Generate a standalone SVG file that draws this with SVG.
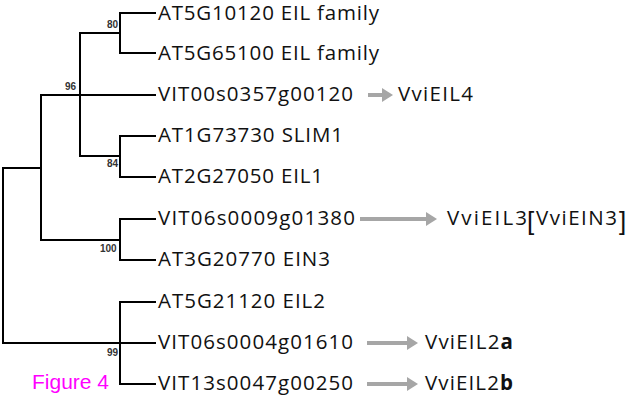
<svg xmlns="http://www.w3.org/2000/svg" width="632" height="400" viewBox="0 0 632 400">
<defs>
<style>
.br{fill:none;stroke:#000;stroke-width:2;stroke-linecap:square}
.lf{font-family:"Open Sans","Liberation Sans",sans-serif;font-size:20.5px;fill:#111}
.bs{font-family:"Liberation Sans",Arial,sans-serif;font-size:10px;font-weight:bold;fill:#333}
.ar{fill:none;stroke:#a6a6a6;stroke-width:4}
.bk{font-family:"Liberation Sans",Arial,sans-serif;font-size:26px;fill:#111}
</style>
<marker id="ah" markerUnits="userSpaceOnUse" markerWidth="12" markerHeight="16" refX="2" refY="7" orient="auto">
<path d="M0,0 L11,7 L0,14 z" fill="#a6a6a6"/>
</marker>
</defs>
<rect width="632" height="400" fill="#fff"/>
<g id="connectors">
<path class="br" d="M3,168 V343 M3,168 H41 M41,95 V240 M41,95 H155 M80,33 V156 M80,33 H120 M120,13 V53 M120,13 H155 M120,53 H155 M80,156 H120 M120,136 V177 M120,136 H155 M120,177 H155 M41,240 H120 M120,219 V260 M120,219 H155 M120,260 H155 M3,343 H155 M120,302 V384 M120,302 H155 M120,384 H155"/>
<path class="ar" d="M368,95 H384" marker-end="url(#ah)"/>
<path class="ar" d="M360,219 H428" marker-end="url(#ah)"/>
<path class="ar" d="M367,343 H409" marker-end="url(#ah)"/>
<path class="ar" d="M367,384 H409" marker-end="url(#ah)"/>
</g>
<g id="bootstrap">
<text class="bs" x="107" y="28">80</text>
<text class="bs" x="65" y="90">96</text>
<text class="bs" x="107" y="167">84</text>
<text class="bs" x="100" y="252">100</text>
<text class="bs" x="107" y="356">99</text>
</g>
<g id="leaf1"><text class="lf" x="158" y="20" textLength="221">AT5G10120 EIL family</text></g>
<g id="leaf2"><text class="lf" x="158" y="60" textLength="221">AT5G65100 EIL family</text></g>
<g id="leaf3"><text class="lf" x="158" y="101" textLength="195">VIT00s0357g00120</text></g>
<g id="leaf4"><text class="lf" x="158" y="142" textLength="185">AT1G73730 SLIM1</text></g>
<g id="leaf5"><text class="lf" x="158" y="183" textLength="165">AT2G27050 EIL1</text></g>
<g id="leaf6"><text class="lf" x="158" y="225" textLength="197">VIT06s0009g01380</text></g>
<g id="leaf7"><text class="lf" x="158" y="266" textLength="172">AT3G20770 EIN3</text></g>
<g id="leaf8"><text class="lf" x="158" y="308" textLength="167">AT5G21120 EIL2</text></g>
<g id="leaf9"><text class="lf" x="158" y="349" textLength="195">VIT06s0004g01610</text></g>
<g id="leaf10"><text class="lf" x="158" y="390" textLength="195">VIT13s0047g00250</text></g>
<g id="VviEIL4"><text class="lf" x="398" y="101" textLength="75">VviEIL4</text></g>
<g id="VviEIL3">
<text class="lf" x="447" y="225" textLength="80">VviEIL3</text>
<text class="bk" x="527" y="230">[</text>
<text class="lf" x="536" y="225" textLength="81">VviEIN3</text>
<text class="bk" x="619" y="230">]</text>
</g>
<g id="VviEIL2a"><text class="lf" x="425" y="349" textLength="88">VviEIL2<tspan font-weight="bold">a</tspan></text></g>
<g id="VviEIL2b"><text class="lf" x="425" y="390" textLength="88">VviEIL2<tspan font-weight="bold">b</tspan></text></g>
<text x="32" y="389" font-family="Liberation Sans, Arial, sans-serif" font-size="21" fill="#ff00ff">Figure 4</text>
</svg>
